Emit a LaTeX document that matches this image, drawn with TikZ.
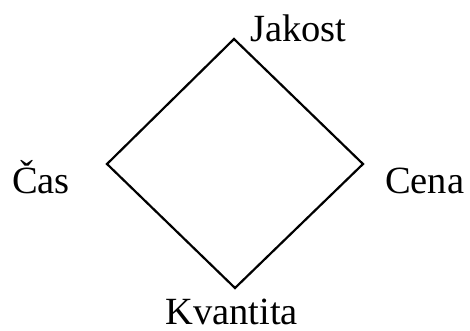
\documentclass[tikz,border=0pt]{standalone}
\usepackage{fontspec}
\setmainfont{Liberation Serif}
\begin{document}
\begin{tikzpicture}[x=1pt,y=-1pt,
  lbl/.style={inner sep=0pt,anchor=base west,font=\fontsize{38.5}{40}\selectfont},
  edge/.style={line width=2.2pt,line join=miter}]
\useasboundingbox (0,0) rectangle (470,331);
\coordinate (t) at (234,39);
\coordinate (r) at (363,164);
\coordinate (b) at (235,288);
\coordinate (l) at (107,164);
\draw[edge] (t) -- (r) -- (b) -- (l) -- cycle;
\node[lbl] (jakost) at (250,42) {Jakost};
\node[lbl] (cas) at (12,193) {Čas};
\node[lbl] (cena) at (385,193) {Cena};
\node[lbl] (kvantita) at (165,324) {Kvantita};
\end{tikzpicture}
\end{document}
